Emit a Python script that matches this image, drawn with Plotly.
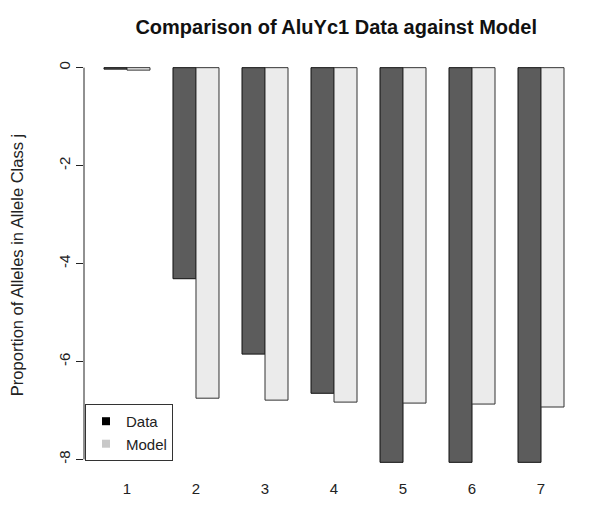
import plotly.graph_objects as go

# allele classes j and the two series
classes = [1, 2, 3, 4, 5, 6, 7]
data_vals = [-0.03, -4.31, -5.85, -6.65, -8.06, -8.06, -8.06]
model_vals = [-0.05, -6.75, -6.79, -6.83, -6.85, -6.87, -6.93]
y_ticks = [0, -2, -4, -6, -8]
y_tick_text = ["0", "-2", "-4", "-6", "-8"]

FONT = "Liberation Sans, Arial, sans-serif"

fig = go.Figure()
fig.add_trace(go.Bar(
    x=classes, y=data_vals, name="Data", showlegend=False,
    marker=dict(color="#5c5c5c", line=dict(color="#111111", width=1)),
))
fig.add_trace(go.Bar(
    x=classes, y=model_vals, name="Model", showlegend=False,
    marker=dict(color="#ebebeb", line=dict(color="#333333", width=1)),
))
# legend entries, drawn as plain squares like the original
fig.add_trace(go.Scatter(
    x=[None], y=[None], mode="markers", name="Data",
    marker=dict(symbol="square", size=8, color="black"),
))
fig.add_trace(go.Scatter(
    x=[None], y=[None], mode="markers", name="Model",
    marker=dict(symbol="square", size=8, color="#c8c8c8"),
))

# y axis line only spans the tick range
fig.add_shape(type="line", xref="paper", yref="y", x0=0, x1=0,
              y0=0, y1=-8, line=dict(color="#222222", width=1))

# page body adds an 8px offset, margins account for it
fig.update_layout(
    width=600, height=509,
    margin=dict(l=76, r=24, t=44, b=39),
    paper_bgcolor="white", plot_bgcolor="white",
    font=dict(family=FONT, size=14, color="#222222"),
    title=dict(text="<b>Comparison of AluYc1 Data against Model</b>",
               x=0.547, xanchor="center", y=0.962, yanchor="middle",
               font=dict(size=20, color="#111111")),
    barmode="group", bargap=1/3, bargroupgap=0,
    legend=dict(x=0.002, y=0.04, xanchor="left", yanchor="bottom",
                bordercolor="#333333", borderwidth=1, bgcolor="white",
                font=dict(size=15), tracegroupgap=0, itemwidth=30),
    showlegend=True,
)
fig.update_xaxes(
    range=[1 - 0.623, 7 + 0.623], tickvals=classes,
    ticktext=[str(c) for c in classes],
    showgrid=False, zeroline=False, showline=False, automargin=False,
    ticks="", tickfont=dict(size=15),
)
fig.update_yaxes(
    range=[-8.38, 0.32], tickvals=y_ticks, ticktext=y_tick_text,
    showgrid=False, zeroline=False, showline=False, automargin=False,
    ticks="outside", ticklen=7, tickcolor="#222222",
    tickangle=-90, tickfont=dict(size=15),
    title=dict(text="Proportion of Alleles in Allele Class j",
               font=dict(size=16.5), standoff=30),
)

fig.write_html("out.html")
